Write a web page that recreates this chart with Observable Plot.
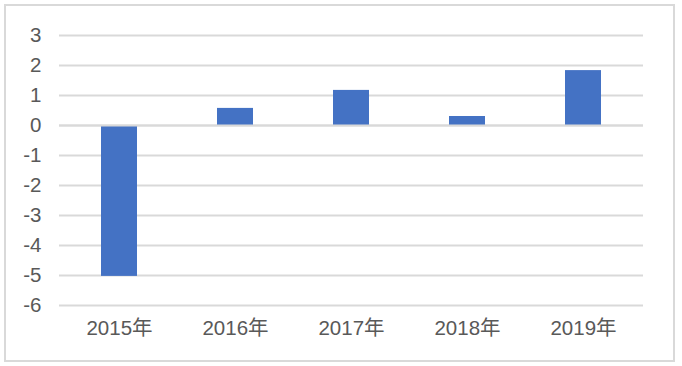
<!DOCTYPE html>
<html>
<head>
<meta charset="utf-8">
<script src="https://cdn.jsdelivr.net/npm/d3@7"></script>
<script src="https://cdn.jsdelivr.net/npm/@observablehq/plot@0.6"></script>
<style>
  html, body { margin: 0; padding: 0; background: #fff; }
  #chart { position: relative; width: 682px; height: 366px; }
  #chart .border {
    position: absolute; left: 4px; top: 4px; width: 667px; height: 354px;
    border: 2px solid #d9d9d9; pointer-events: none;
  }
  #chart svg { position: absolute; left: 0; top: 0; }
</style>
</head>
<body>
<div id="chart"><div class="border"></div></div>
<script>
// Annual values per year
const years = ["2015年", "2016年", "2017年", "2018年", "2019年"];
const values = [-5.03, 0.57, 1.17, 0.3, 1.83];
const yTicks = [-6, -5, -4, -3, -2, -1, 0, 1, 2, 3];

const data = years.map((year, i) => ({year, value: values[i]}));

const chart = Plot.plot({
  width: 682,
  height: 366,
  marginLeft: 59,
  marginRight: 39,
  marginTop: 35,
  marginBottom: 61,
  style: {
    fontFamily: "'Liberation Sans', Arial, 'Noto Sans CJK SC', sans-serif",
    fontSize: "20.5px",
    color: "#595959",
    background: "transparent"
  },
  x: {
    domain: years,
    paddingInner: 0.69,
    paddingOuter: 0.345,
    label: null
  },
  y: {
    domain: [-6, 3],
    label: null
  },
  marks: [
    // horizontal gridlines sit behind the bars
    Plot.ruleY(yTicks, {stroke: "#d9d9d9", strokeWidth: 2}),
    Plot.barY(data, {x: "year", y: "value", fill: "#4472C4"}),
    // zero baseline drawn over the bars
    Plot.ruleY([0], {stroke: "#d9d9d9", strokeWidth: 2}),
    Plot.axisY({ticks: yTicks, tickSize: 0, tickPadding: 18, label: null, tickFormat: d => String(d)}),
    Plot.axisX({tickSize: 0, tickPadding: 15, label: null})
  ]
});

document.getElementById("chart").appendChild(chart);
</script>
</body>
</html>
